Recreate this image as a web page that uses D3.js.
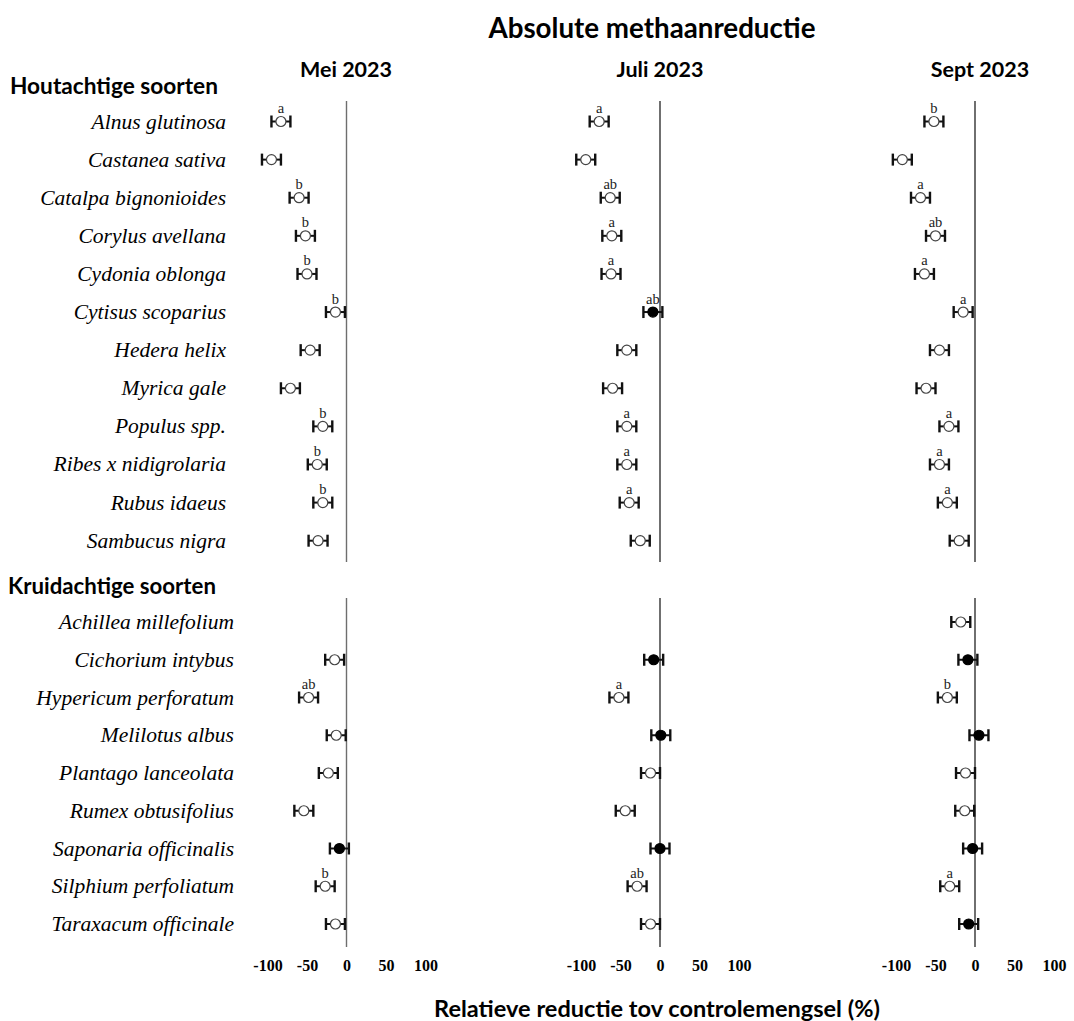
<!DOCTYPE html>
<html>
<head>
<meta charset="utf-8">
<script src="https://cdn.jsdelivr.net/npm/d3@7"></script>
<style>
  html, body { margin: 0; padding: 0; background: #fff; }
  svg { display: block; }
  .head { font-family: Lato, "Open Sans", sans-serif; font-weight: 700; fill: #000; }
  .species { font-family: "Liberation Serif", "DejaVu Serif", serif; font-style: italic; fill: #000; }
  .tick text { font-family: "Liberation Serif", serif; font-weight: 700; fill: #000; }
  .letter { font-family: "Liberation Serif", serif; fill: #222; }
</style>
</head>
<body>
<svg id="chart" width="1074" height="1021"></svg>
<script>
// Species per group
const woody = ["Alnus glutinosa", "Castanea sativa", "Catalpa bignonioides", "Corylus avellana",
  "Cydonia oblonga", "Cytisus scoparius", "Hedera helix", "Myrica gale", "Populus spp.",
  "Ribes x nidigrolaria", "Rubus idaeus", "Sambucus nigra"];
const herbs = ["Achillea millefolium", "Cichorium intybus", "Hypericum perforatum", "Melilotus albus",
  "Plantago lanceolata", "Rumex obtusifolius", "Saponaria officinalis", "Silphium perfoliatum",
  "Taraxacum officinale"];

const months = ["Mei 2023", "Juli 2023", "Sept 2023"];
const tickValues = [-100, -50, 0, 50, 100];

// Relative reduction (%) per month, woody species
const woodyMei  = [-83, -95, -60, -52, -50, -14, -46, -71, -30, -37, -30, -36];
const woodyJuli = [-77, -94, -63, -61, -62, -9, -42, -60, -42, -42, -39, -25];
const woodySept = [-52, -92, -69, -50, -64, -15, -45, -62, -33, -45, -35, -20];
// Standard error (half-width of the whisker)
const woodyErrMei  = [12, 12, 12, 12, 12, 12, 12, 12, 12, 12, 12, 12];
const woodyErrJuli = [12, 12, 12, 12, 12, 12, 12, 12, 12, 12, 12, 12];
const woodyErrSept = [12, 12, 12, 12, 12, 12, 12, 12, 12, 12, 12, 12];
// Significance letters
const woodyLetMei  = ["a", "", "b", "b", "b", "b", "", "", "b", "b", "b", ""];
const woodyLetJuli = ["a", "", "ab", "a", "a", "ab", "", "", "a", "a", "a", ""];
const woodyLetSept = ["b", "", "a", "ab", "a", "a", "", "", "a", "a", "a", ""];
// Filled marker = not significantly different from the control mix
const woodyFillMei  = [0, 0, 0, 0, 0, 0, 0, 0, 0, 0, 0, 0];
const woodyFillJuli = [0, 0, 0, 0, 0, 1, 0, 0, 0, 0, 0, 0];
const woodyFillSept = [0, 0, 0, 0, 0, 0, 0, 0, 0, 0, 0, 0];

// Relative reduction (%) per month, herbaceous species (null = not measured)
const herbMei  = [null, -15, -48, -13, -23, -54, -9, -27, -14];
const herbJuli = [null, -8, -52, 1, -12, -44, 0, -29, -12];
const herbSept = [-18, -9, -35, 5, -12, -13, -3, -32, -8];
const herbErrMei  = [12, 12, 12, 12, 12, 12, 12, 12, 12];
const herbErrJuli = [12, 12, 12, 12, 12, 12, 12, 12, 12];
const herbErrSept = [12, 12, 12, 12, 12, 12, 12, 12, 12];
const herbLetMei  = ["", "", "ab", "", "", "", "", "b", ""];
const herbLetJuli = ["", "", "a", "", "", "", "", "ab", ""];
const herbLetSept = ["", "", "b", "", "", "", "", "a", ""];
const herbFillMei  = [0, 0, 0, 0, 0, 0, 1, 0, 0];
const herbFillJuli = [0, 1, 0, 1, 0, 0, 1, 0, 0];
const herbFillSept = [0, 1, 0, 1, 0, 0, 1, 0, 1];

const svg = d3.select("#chart");

// Layout
const zeroX = [346.5, 660, 975];
const halfSpan = 79; // px for 100 %
const groups = [
  { title: "Houtachtige soorten", titleX: 10, titleY: 94, names: woody, rows: [121.5, 540.7], line: [101, 562], labelX: 226,
    vals: [woodyMei, woodyJuli, woodySept], errs: [woodyErrMei, woodyErrJuli, woodyErrSept],
    lets: [woodyLetMei, woodyLetJuli, woodyLetSept], fills: [woodyFillMei, woodyFillJuli, woodyFillSept] },
  { title: "Kruidachtige soorten", titleX: 8, titleY: 594, names: herbs, rows: [622, 924], line: [598, 947], labelX: 234,
    vals: [herbMei, herbJuli, herbSept], errs: [herbErrMei, herbErrJuli, herbErrSept],
    lets: [herbLetMei, herbLetJuli, herbLetSept], fills: [herbFillMei, herbFillJuli, herbFillSept] }
];

const xScales = zeroX.map(z => d3.scaleLinear().domain([-100, 100]).range([z - halfSpan, z + halfSpan]));

// Bold sans heading whose font size is set so it spans the given width
function heading(x, y, anchor, width, label) {
  const t = svg.append("text").attr("class", "head").attr("x", x).attr("y", y)
    .attr("text-anchor", anchor).style("font-size", "20px").text(label);
  const w = t.node().getComputedTextLength();
  const size = 20 * width / w;
  t.style("font-size", size.toFixed(2) + "px");
  return size;
}

heading(652, 38, "middle", 327, "Absolute methaanreductie");
const monthX = [346, 660, 980];
// all three month headers share the size of the first one
const monthSize = heading(monthX[0], 77, "middle", 92, months[0]);
months.slice(1).forEach((m, i) => {
  svg.append("text").attr("class", "head").attr("x", monthX[i + 1]).attr("y", 77)
    .attr("text-anchor", "middle").style("font-size", monthSize.toFixed(2) + "px").text(m);
});

groups.forEach(g => {
  const y = d3.scalePoint().domain(g.names).range(g.rows);

  heading(g.titleX, g.titleY, "start", 208, g.title);

  svg.append("g").selectAll("text").data(g.names).join("text")
    .attr("class", "species")
    .attr("x", g.labelX).attr("y", d => y(d) + 7)
    .attr("text-anchor", "end")
    .style("font-size", "21.5px")
    .text(d => d);

  xScales.forEach((x, mi) => {
    const panel = svg.append("g");
    panel.append("line")
      .attr("x1", x(0)).attr("x2", x(0))
      .attr("y1", g.line[0]).attr("y2", g.line[1])
      .attr("stroke", mi === 0 ? "#6e6e6e" : "#333").attr("stroke-width", 1.4);

    const rows = g.names.map((n, i) => ({
      name: n, v: g.vals[mi][i], e: g.errs[mi][i], letter: g.lets[mi][i], filled: g.fills[mi][i]
    })).filter(d => d.v !== null);

    const mark = panel.selectAll("g.mark").data(rows).join("g").attr("class", "mark");
    mark.append("line")
      .attr("x1", d => x(d.v - d.e)).attr("x2", d => x(d.v + d.e))
      .attr("y1", d => y(d.name)).attr("y2", d => y(d.name))
      .attr("stroke", "#111").attr("stroke-width", 2);
    mark.append("line")
      .attr("x1", d => x(d.v - d.e)).attr("x2", d => x(d.v - d.e))
      .attr("y1", d => y(d.name) - 6).attr("y2", d => y(d.name) + 6)
      .attr("stroke", "#111").attr("stroke-width", 2.4);
    mark.append("line")
      .attr("x1", d => x(d.v + d.e)).attr("x2", d => x(d.v + d.e))
      .attr("y1", d => y(d.name) - 6).attr("y2", d => y(d.name) + 6)
      .attr("stroke", "#111").attr("stroke-width", 2.4);
    mark.append("circle")
      .attr("cx", d => x(d.v)).attr("cy", d => y(d.name))
      .attr("r", 5)
      .attr("fill", d => d.filled ? "#000" : "#fff")
      .attr("stroke", d => d.filled ? "#000" : "#444")
      .attr("stroke-width", 1.2);
    mark.filter(d => d.letter).append("text")
      .attr("class", "letter")
      .attr("x", d => x(d.v)).attr("y", d => y(d.name) - 8.5)
      .attr("text-anchor", "middle")
      .style("font-size", "14.5px")
      .text(d => d.letter);
  });
});

// Value axes below the three panels
xScales.forEach(x => {
  const ax = svg.append("g").attr("transform", "translate(0,950)")
    .call(d3.axisBottom(x).tickValues(tickValues).tickSize(0).tickPadding(10).tickFormat(d => String(d)));
  ax.select(".domain").remove();
  ax.selectAll("text").style("font-size", "16px");
});

heading(657, 1017, "middle", 446, "Relatieve reductie tov controlemengsel (%)");
</script>
</body>
</html>
